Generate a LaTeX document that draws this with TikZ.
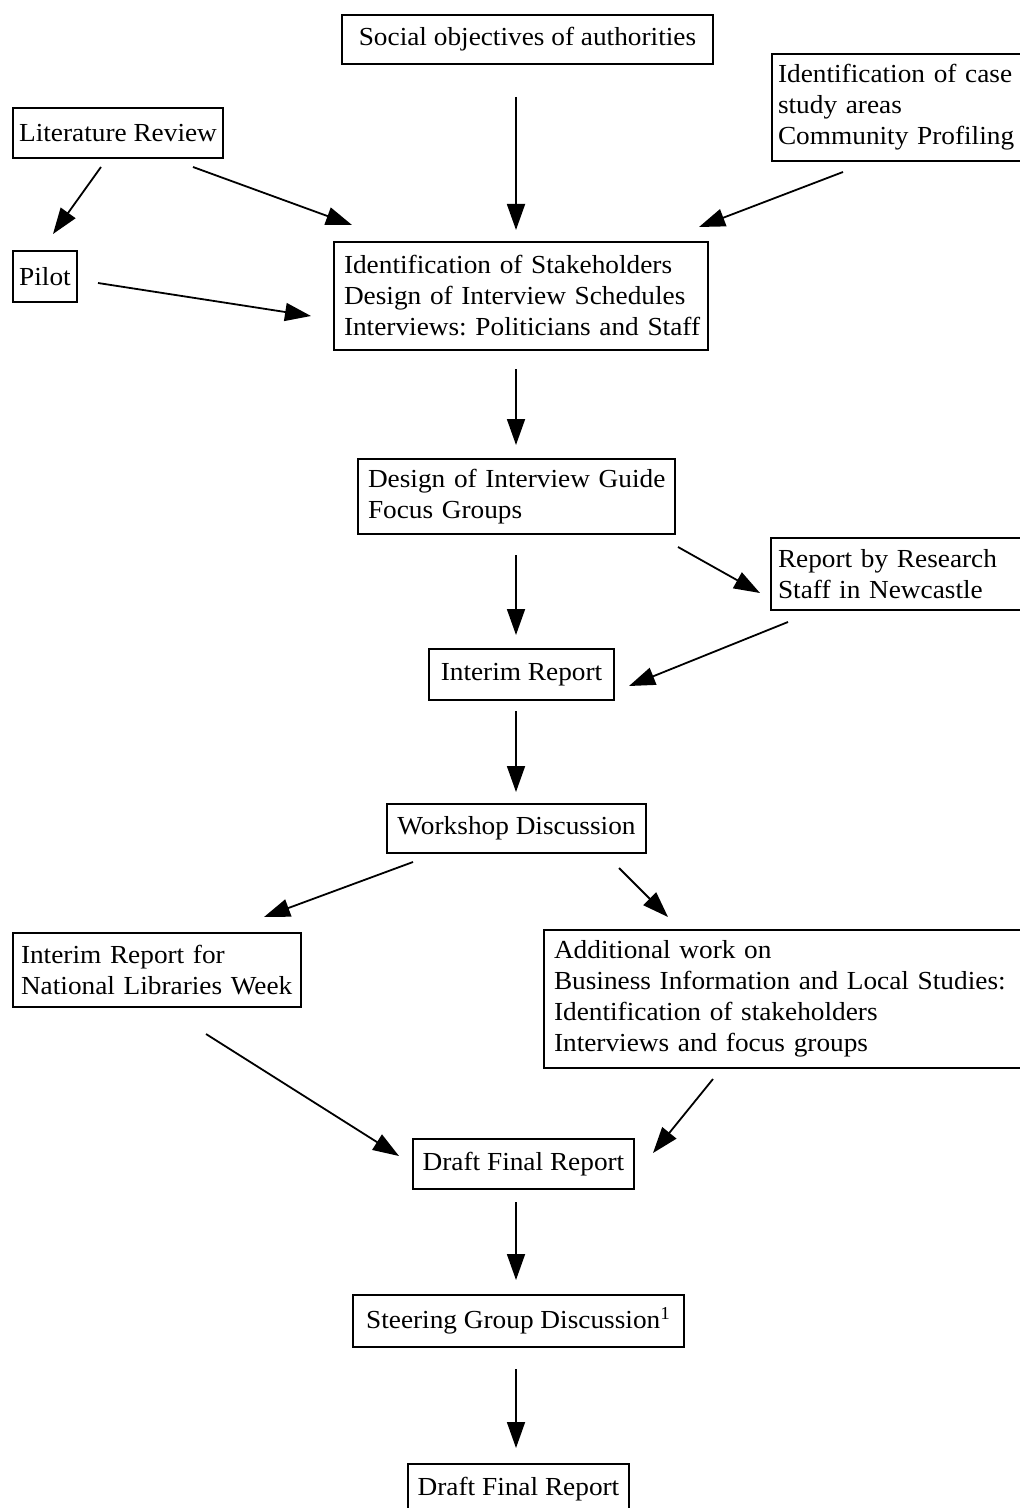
\documentclass[tikz,border=0pt]{standalone}
\usepackage{fontspec}
\setmainfont[FakeStretch=1.05]{Liberation Serif}
\usetikzlibrary{arrows.meta}
\frenchspacing
\newcommand\boxline[1]{\mbox{#1}}
\begin{document}
\begin{tikzpicture}[x=0.5pt,y=-0.5pt,
  box/.style={draw, line width=1pt, anchor=north west, inner ysep=0pt,
    font=\fontsize{13}{15.5}\selectfont},
  one/.style={box, inner xsep=0pt, align=center},
  many/.style={box, align=left},
  arr/.style={line width=0.9pt, -{Triangle[length=13pt,width=9pt]}}]
\useasboundingbox (0,0) rectangle (1019,1508);

% boxes
\node[one, minimum width=185.5pt, minimum height=24.5pt] (social) at (341,14) {Social objectives of authorities};
\node[one, minimum width=105pt, minimum height=25pt] (lit) at (12,107) {Literature Review};
\node[many, inner xsep=3pt, text width=127pt, minimum height=53.5pt] (case) at (771,53)
  {\boxline{Identification of case}\\\boxline{study areas}\\\boxline{Community Profiling}};
\node[one, minimum width=32pt, minimum height=25.5pt] (pilot) at (12,250) {Pilot};
\node[many, inner xsep=5pt, text width=177pt, minimum height=54pt] (stake) at (333,241)
  {\boxline{Identification of Stakeholders}\\\boxline{Design of Interview Schedules}\\\boxline{Interviews: Politicians and Staff}};
\node[many, inner xsep=5pt, text width=148.5pt, minimum height=37.5pt] (guide) at (357,458)
  {\boxline{Design of Interview Guide}\\\boxline{Focus Groups}};
\node[many, inner xsep=3.5pt, text width=127pt, minimum height=36pt] (report) at (770,537)
  {\boxline{Report by Research}\\\boxline{Staff in Newcastle}};
\node[one, minimum width=92.5pt, minimum height=25.5pt] (interim) at (428,648) {Interim Report};
\node[one, minimum width=129.5pt, minimum height=24.5pt] (workshop) at (386,803) {Workshop Discussion};
\node[many, inner xsep=4pt, text width=136pt, minimum height=37pt] (libweek) at (12,932)
  {\boxline{Interim Report for}\\\boxline{National Libraries Week}};
\node[many, inner xsep=5pt, text width=240pt, minimum height=69pt] (addl) at (543,929)
  {\boxline{Additional work on}\\\boxline{Business Information and Local Studies:}\\\boxline{Identification of stakeholders}\\\boxline{Interviews and focus groups}};
\node[one, minimum width=110.5pt, minimum height=25pt] (draft) at (412,1138) {Draft Final Report};
\node[one, minimum width=165.5pt, minimum height=26pt] (steer) at (352,1294) {Steering Group Discussion\textsuperscript{1}};
\node[one, minimum width=110.5pt, minimum height=25.5pt] (final) at (407,1463) {Draft Final Report};

% connectors
\draw[arr] ([shift={(-11.5,32)}]social.south) -- ([shift={(-5,-11)}]stake.north);
\draw[arr] ([shift={(-17,8)}]lit.south) -- ([shift={(8,-16)}]pilot.north);
\draw[arr] ([shift={(75,8)}]lit.south) -- ([shift={(19,-16)}]stake.north west);
\draw[arr] ([shift={(72,10)}]case.south west) -- ([shift={(-10,-14)}]stake.north east);
\draw[arr] ([shift={(20,6.5)}]pilot.east) -- ([shift={(-22,20)}]stake.west);
\draw[arr] ([shift={(-5,18)}]stake.south) -- ([shift={(-0.5,-13)}]guide.north);
\draw[arr] ([shift={(-0.5,20)}]guide.south) -- ([shift={(-5.5,-13)}]interim.north);
\draw[arr] ([shift={(2,12)}]guide.south east) -- ([shift={(-10,19)}]report.west);
\draw[arr] ([shift={(18,11)}]report.south west) -- ([shift={(14,11.5)}]interim.east);
\draw[arr] ([shift={(-5.5,10)}]interim.south) -- ([shift={(-0.5,-11)}]workshop.north);
\draw[arr] ([shift={(27,8)}]workshop.south west) -- ([shift={(-38,-15)}]libweek.north east);
\draw[arr] ([shift={(-28,14)}]workshop.south east) -- ([shift={(125,-12)}]addl.north west);
\draw[arr] ([shift={(49,26)}]libweek.south) -- ([shift={(-13,-8)}]draft.west);
\draw[arr] ([shift={(170,10)}]addl.south west) -- ([shift={(18,-11)}]draft.east);
\draw[arr] ([shift={(-7.5,12)}]draft.south) -- ([shift={(-2.5,-14)}]steer.north);
\draw[arr] ([shift={(-2.5,21)}]steer.south) -- ([shift={(-2.5,-15)}]final.north);
\end{tikzpicture}
\end{document}
